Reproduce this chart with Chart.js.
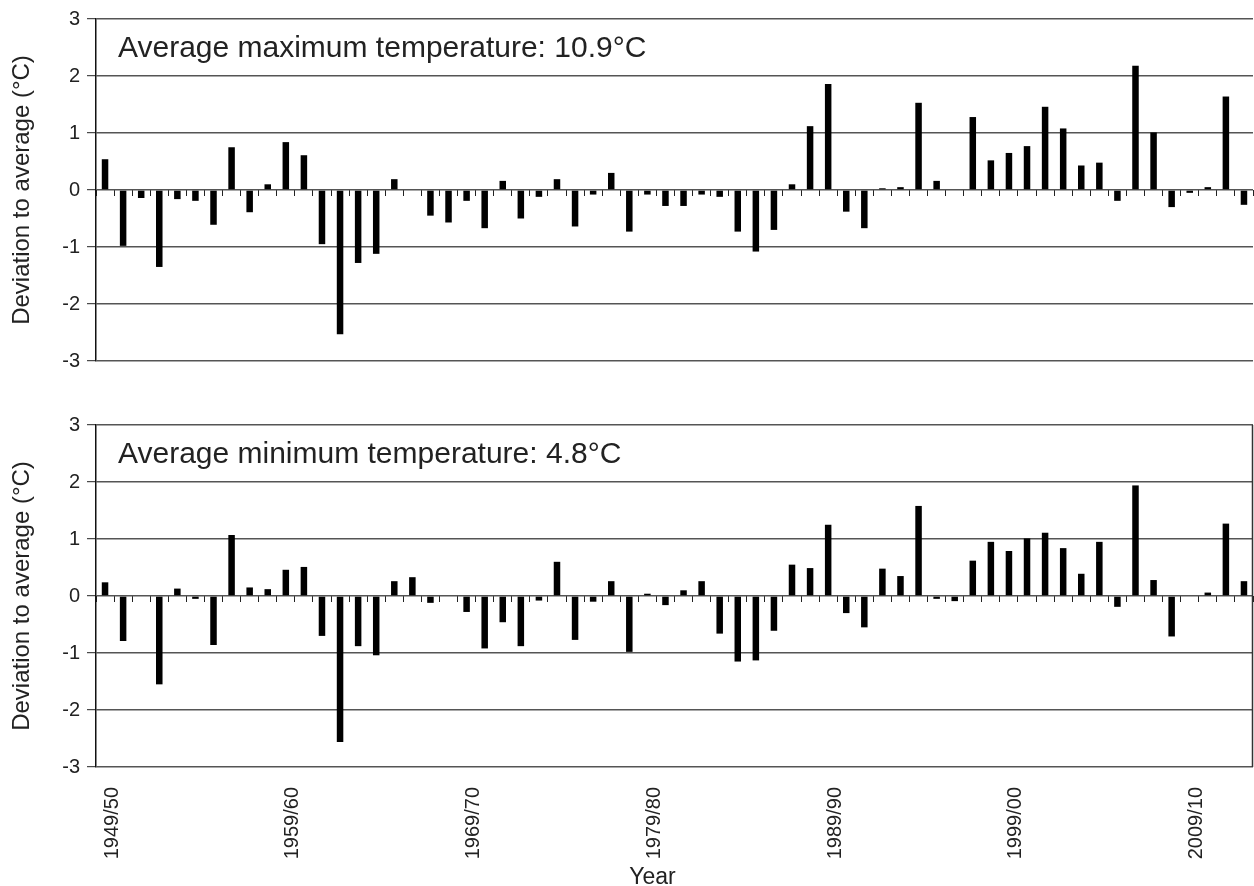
<!DOCTYPE html>
<html>
<head>
<meta charset="utf-8">
<title>Temperature deviation from average</title>
<script src="https://cdn.jsdelivr.net/npm/chart.js@4.4.1/dist/chart.umd.min.js"></script>
<style>
  html, body { margin: 0; padding: 0; background: #fff; }
  #wrap { position: relative; width: 1254px; height: 886px; overflow: hidden; }
  canvas { position: absolute; left: 0; }
  #maxChart { top: 0; }
  #minChart { top: 400px; }
</style>
</head>
<body>
<div id="wrap">
  <canvas id="maxChart" width="1254" height="400"></canvas>
  <canvas id="minChart" width="1254" height="486"></canvas>
</div>
<script>
// seasons on the x axis, one bar each
const seasons = [
  '1949/50', '1950/51', '1951/52', '1952/53', '1953/54', '1954/55', '1955/56', '1956/57', '1957/58', '1958/59',
  '1959/60', '1960/61', '1961/62', '1962/63', '1963/64', '1964/65', '1965/66', '1966/67', '1967/68', '1968/69',
  '1969/70', '1970/71', '1971/72', '1972/73', '1973/74', '1974/75', '1975/76', '1976/77', '1977/78', '1978/79',
  '1979/80', '1980/81', '1981/82', '1982/83', '1983/84', '1984/85', '1985/86', '1986/87', '1987/88', '1988/89',
  '1989/90', '1990/91', '1991/92', '1992/93', '1993/94', '1994/95', '1995/96', '1996/97', '1997/98', '1998/99',
  '1999/00', '2000/01', '2001/02', '2002/03', '2003/04', '2004/05', '2005/06', '2006/07', '2007/08', '2008/09',
  '2009/10', '2010/11', '2011/12', '2012/13'
];

// deviation of the average maximum temperature (°C)
const maxDeviation = [
  0.54, -0.98, -0.14, -1.35, -0.16, -0.19, -0.61, 0.75, -0.39, 0.10,
  0.84, 0.61, -0.95, -2.53, -1.28, -1.12, 0.19, 0, -0.45, -0.57,
  -0.19, -0.67, 0.16, -0.50, -0.12, 0.19, -0.64, -0.08, 0.30, -0.73,
  -0.08, -0.28, -0.28, -0.08, -0.12, -0.73, -1.08, -0.70, 0.10, 1.12,
  1.86, -0.38, -0.67, 0.03, 0.05, 1.53, 0.16, 0, 1.28, 0.52,
  0.65, 0.77, 1.46, 1.08, 0.43, 0.48, -0.19, 2.18, 1.01, -0.30,
  -0.05, 0.05, 1.64, -0.26
];

// deviation of the average minimum temperature (°C)
const minDeviation = [
  0.24, -0.79, 0, -1.55, 0.13, -0.05, -0.86, 1.07, 0.15, 0.12,
  0.46, 0.51, -0.70, -2.56, -0.88, -1.04, 0.26, 0.33, -0.12, 0,
  -0.28, -0.92, -0.46, -0.88, -0.08, 0.60, -0.77, -0.10, 0.26, -0.98,
  0.04, -0.16, 0.10, 0.26, -0.66, -1.15, -1.13, -0.61, 0.55, 0.49,
  1.25, -0.30, -0.55, 0.48, 0.35, 1.58, -0.05, -0.09, 0.62, 0.95,
  0.79, 1.01, 1.11, 0.84, 0.39, 0.95, -0.19, 1.94, 0.28, -0.71,
  0, 0.06, 1.27, 0.26
];

const averageMax = 10.9;
const averageMin = 4.8;
const yRange = [-3, 3];

const FONT = "'Liberation Sans', Arial, sans-serif";
Chart.defaults.font.family = FONT;
Chart.defaults.color = '#222';

// caption written inside the plot, top left
const panelCaption = {
  id: 'panelCaption',
  afterDatasetsDraw(chart, args, opts) {
    if (!opts.text) return;
    const { ctx, chartArea } = chart;
    ctx.save();
    ctx.font = opts.size + 'px ' + FONT;
    ctx.fillStyle = '#222';
    ctx.textBaseline = 'alphabetic';
    ctx.fillText(opts.text, chartArea.left + 22, chartArea.top + 38);
    ctx.restore();
  }
};

// closing line on the right of the plot, plus the "Year" caption under the labels
const frameExtras = {
  id: 'frameExtras',
  afterDraw(chart, args, opts) {
    if (!opts.show) return;
    const { ctx, chartArea, height } = chart;
    ctx.save();
    ctx.strokeStyle = '#333';
    ctx.lineWidth = 1.5;
    ctx.beginPath();
    ctx.moveTo(chartArea.right - 0.5, chartArea.top);
    ctx.lineTo(chartArea.right - 0.5, chartArea.bottom);
    ctx.stroke();

    ctx.font = '23px ' + FONT;
    ctx.fillStyle = '#222';
    ctx.textAlign = 'center';
    ctx.textBaseline = 'alphabetic';
    ctx.fillText(opts.xTitle, (chartArea.left + chartArea.right) / 2 - 22, height - 2);
    ctx.restore();
  }
};

function buildScales(withYears) {
  const scales = {
    // category axis sitting on the zero line, only its tick marks show
    x: {
      type: 'category',
      position: { y: 0 },
      offset: true,
      grid: { offset: true, drawOnChartArea: false, tickLength: 6, color: '#222', lineWidth: 1 },
      border: { display: false },
      ticks: { display: false }
    },
    y: {
      min: yRange[0],
      max: yRange[1],
      ticks: { stepSize: 1, font: { size: 20 }, padding: 7, color: '#222' },
      grid: { color: '#555', lineWidth: 1.4, tickLength: 9, tickColor: '#222', tickWidth: 1 },
      border: { display: true, color: '#111', width: 1.5 },
      title: {
        display: true,
        text: 'Deviation to average (°C)',
        font: { size: 24 },
        color: '#222',
        padding: { top: 8, bottom: 0 }
      },
      afterFit(s) { s.width = 96; }
    }
  };
  if (withYears) {
    scales.x2 = {
      type: 'category',
      position: 'bottom',
      offset: true,
      grid: { display: false },
      border: { display: false },
      ticks: {
        autoSkip: false,
        minRotation: 90,
        maxRotation: 90,
        padding: 12,
        labelOffset: 7,
        font: { size: 20 },
        color: '#222',
        callback: (v, i) => (i % 10 === 0 ? seasons[i] : '')
      },
      afterFit(s) {
        s.height = 119;
        s.paddingLeft = 0;
        s.paddingRight = 0;
      }
    };
  }
  return scales;
}

function makePanel(id, values, caption, withYears, padding) {
  return new Chart(document.getElementById(id), {
    type: 'bar',
    data: {
      labels: seasons,
      datasets: [{
        data: values,
        backgroundColor: '#000',
        borderWidth: 0,
        barPercentage: 0.36,
        categoryPercentage: 1,
        xAxisID: 'x',
        yAxisID: 'y'
      }]
    },
    options: {
      responsive: false,
      animation: false,
      devicePixelRatio: 1,
      layout: { padding: padding },
      scales: buildScales(withYears),
      plugins: {
        legend: { display: false },
        tooltip: { enabled: false },
        panelCaption: { text: caption, size: 30 },
        frameExtras: { show: withYears, xTitle: 'Year' }
      }
    },
    plugins: [panelCaption, frameExtras]
  });
}

makePanel('maxChart', maxDeviation, 'Average maximum temperature: ' + averageMax + '°C', false,
  { top: 19, right: 1, bottom: 39, left: 0 });
makePanel('minChart', minDeviation, 'Average minimum temperature: ' + averageMin + '°C', true,
  { top: 25, right: 1, bottom: 0, left: 0 });
</script>
</body>
</html>
